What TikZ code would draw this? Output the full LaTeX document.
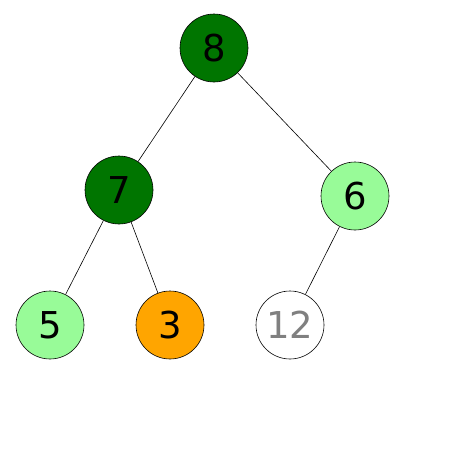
\documentclass[tikz,border=0pt]{standalone}
\usepackage{fontspec}
\setmainfont{DejaVu Sans}
\usepackage{tikz}
\definecolor{DarkLeaf}{HTML}{007500}
\definecolor{PaleLeaf}{HTML}{98FB98}
\definecolor{Amber}{HTML}{FFA500}
\definecolor{Ash}{HTML}{808080}

\begin{document}
\begin{tikzpicture}[
  x=1pt,y=-1pt,
  every node/.style={font=\fontsize{37}{40}\selectfont},
  key/.style={circle,draw=black,line width=0.6pt,minimum size=68pt,inner sep=0pt},
  edge/.style={draw=black,line width=0.6pt}
]
\useasboundingbox (0,0) rectangle (450,450);
\node[key,fill=DarkLeaf] (n8) at (214,48) {8};
\node[key,fill=DarkLeaf] (n7) at (119,190) {7};
\node[key,fill=PaleLeaf] (n6) at (355,196) {6};
\node[key,fill=PaleLeaf] (n5) at (50,325) {5};
\node[key,fill=Amber] (n3) at (170,325) {3};
\node[key,fill=white,text=Ash] (n12) at (290,325) {12};
\draw[edge] (n8)--(n7); \draw[edge] (n8)--(n6);
\draw[edge] (n7)--(n5); \draw[edge] (n7)--(n3);
\draw[edge] (n6)--(n12);
\end{tikzpicture}
\end{document}
